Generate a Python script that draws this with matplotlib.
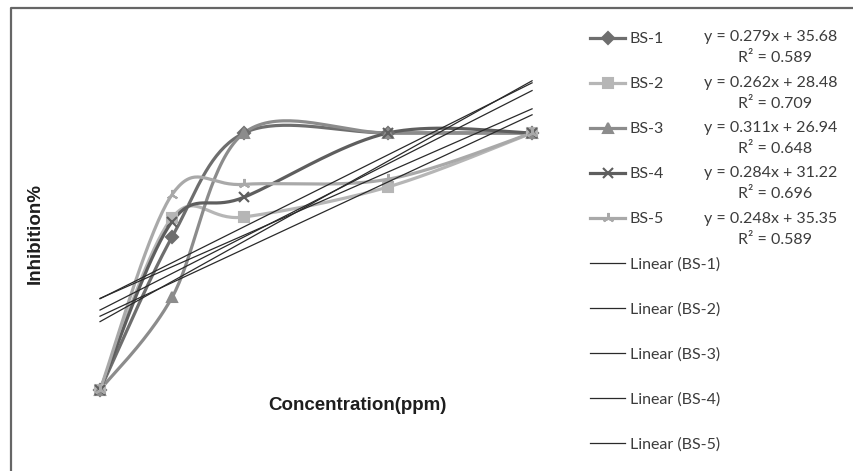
import numpy as np
import matplotlib
matplotlib.use("Agg")
import matplotlib.pyplot as plt
from matplotlib.lines import Line2D

# ==============================================================================
# DATA
# ==============================================================================
conc = [0, 50, 100, 200, 300]          # ppm
bs1 = [0, 59.5, 100, 100, 100]
bs2 = [0, 67, 67.3, 79, 100]
bs3 = [0, 36, 100, 100, 100]
bs4 = [0, 65.5, 75, 100, 100]
bs5 = [0, 76, 80, 82, 100]

names      = ["BS-1", "BS-2", "BS-3", "BS-4", "BS-5"]
slopes     = [0.279, 0.262, 0.311, 0.284, 0.248]
intercepts = [35.68, 28.48, 26.94, 31.22, 35.35]
r2         = [0.589, 0.709, 0.648, 0.696, 0.589]

# ==============================================================================
# STYLE
# ==============================================================================
colors  = ["#6e6e6e", "#b6b6b6", "#8c8c8c", "#5e5e5e", "#a9a9a9"]
markers = ["D", "s", "^", "x", (3, 2, 0)]
msizes  = [6, 7, 7, 7, 8]
trend_c = "#2a2a2a"
text_c  = "#3c3c3c"

W, H = 854, 471


def smooth(x, y, n=40):
    # excel-ish smoothed line: bezier with catmull-rom control points
    p = np.column_stack([x, y]).astype(float)
    out = []
    for i in range(len(p) - 1):
        p0 = p[i - 1] if i > 0 else p[i]
        p1, p2 = p[i], p[i + 1]
        p3 = p[i + 2] if i + 2 < len(p) else p[i + 1]
        c1 = p1 + (p2 - p0) / 6.0
        c2 = p2 - (p3 - p1) / 6.0
        t = np.linspace(0, 1, n)[:, None]
        seg = ((1 - t)**3 * p1 + 3 * (1 - t)**2 * t * c1
               + 3 * (1 - t) * t**2 * c2 + t**3 * p2)
        out.append(seg if i == 0 else seg[1:])
    out = np.vstack(out)
    return out[:, 0], out[:, 1]


fig = plt.figure(figsize=(W / 100, H / 100), dpi=100)
ax = fig.add_axes([80 / W, 1 - 400 / H, 480 / W, 330 / H])

series = [bs1, bs2, bs3, bs4, bs5]
handles, trend_handles = [], []
for k, vals in enumerate(series):
    sx, sy = smooth(conc, vals)
    ax.plot(sx, sy, color=colors[k], lw=2.3, solid_capstyle="round", zorder=2)
    ax.plot(conc, vals, ls="none", marker=markers[k], ms=msizes[k],
            color=colors[k], mec=colors[k], mew=1.5, zorder=3)
    handles.append(Line2D([], [], color=colors[k], lw=2.3, marker=markers[k],
                          ms=msizes[k], mec=colors[k], mew=1.5))

    m, b = np.polyfit(conc, vals, 1)
    xs = np.array([conc[0], conc[-1]])
    ln, = ax.plot(xs, m * xs + b, color=trend_c, lw=0.9, zorder=4)
    trend_handles.append(ln)

ax.set_xlim(-13.9, 319.4)
ax.set_ylim(-3.9, 124.5)
ax.axis("off")

fig.text(35 / W, 1 - 233 / H, "Inhibition%", rotation=90, ha="center",
         va="center", fontsize=13.5, fontweight="bold",
         family="Liberation Sans", color="#1e1e1e")
fig.text(268 / W, 1 - 406 / H, "Concentration(ppm)", ha="left", va="center",
         fontsize=13.5, fontweight="bold", family="Liberation Sans",
         color="#1e1e1e")

leg = fig.legend(handles + trend_handles,
                 names + [f"Linear ({n})" for n in names],
                 loc="upper left", bbox_to_anchor=(590 / W, 1 - 32 / H),
                 frameon=False, borderpad=0, borderaxespad=0,
                 handlelength=2.2, handletextpad=0.3, labelspacing=1.93,
                 prop={"family": "Lato", "size": 11.5})
for t in leg.get_texts():
    t.set_color(text_c)

row_y = [37, 83, 128, 173, 219]
for k in range(5):
    fig.text(771 / W, 1 - row_y[k] / H,
             f"y = {slopes[k]:.3f}x + {intercepts[k]:.2f}",
             ha="center", va="center", fontsize=11.5, family="Lato",
             color=text_c)
    fig.text(775 / W, 1 - (row_y[k] + 21) / H, f"R² = {r2[k]:.3f}",
             ha="center", va="center", fontsize=11.5, family="Lato",
             color=text_c)

# chart area border (top and left edges visible)
fig.add_artist(Line2D([11 / W, 11 / W, 1.0], [0.0, 1 - 8 / H, 1 - 8 / H],
                      transform=fig.transFigure, color="#666666", lw=1.6))

fig.savefig("out.png", dpi=100)
